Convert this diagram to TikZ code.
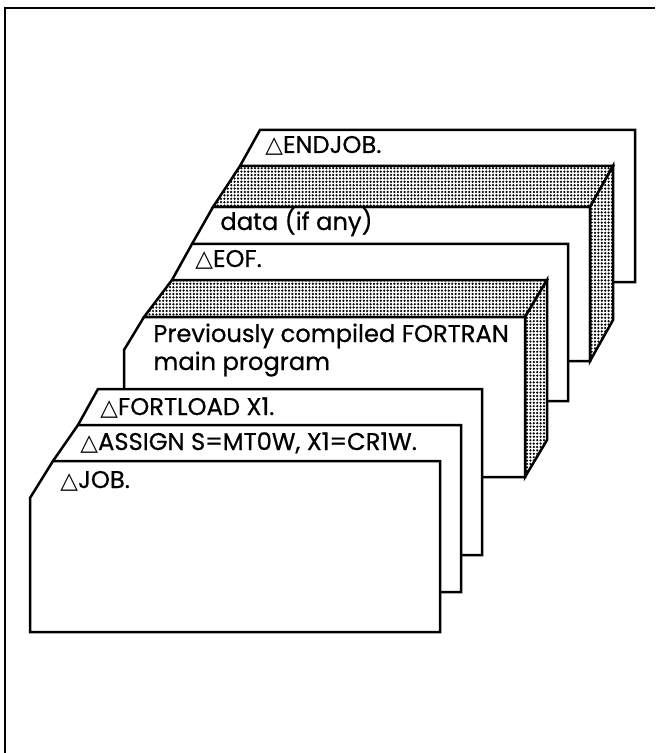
\documentclass[tikz,border=0pt]{standalone}
\usepackage{fontspec}
\setmainfont{Poppins}[FakeBold=0.6]
\newfontfamily\symfont{DejaVu Sans}
\usetikzlibrary{patterns.meta}
\newcommand{\tri}{{\symfont\fontsize{11.5}{14}\selectfont\char"25B3}}
\tikzstyle{card}=[draw, fill=white, line width=1.25pt, line join=miter]
\tikzstyle{dotface}=[card, postaction={pattern={Dots[distance=1.7pt, radius=0.62pt]}}]
\tikzstyle{cardtext}=[anchor=base west, inner sep=0pt, font=\fontsize{12.1}{14}\selectfont]

\begin{document}
\begin{tikzpicture}[x=0.5pt, y=-0.5pt]
        \useasboundingbox (0,0) rectangle (655,753);
        \draw[line width=1.4pt] (655,8) -- (5,8) -- (5,753);
        % back card
        \draw[card] (260,130) -- (635,130) -- (635,282) -- (240,282) -- (240,166) -- cycle;
        % data deck, with its top and side
        \draw[card] (213,207) -- (590,207) -- (590,361) -- (192,361) -- (192,244) -- cycle;
        \draw[dotface] (240,166) -- (613,166) -- (590,207) -- (213,207) -- cycle;
        \draw[dotface] (613,166) -- (613,320) -- (590,361) -- (590,207) -- cycle;
        \draw[card] (192,244) -- (568,244) -- (568,401) -- (172,401) -- (172,280) -- cycle;
        % program deck
        \draw[dotface] (172,280) -- (547,280) -- (525,317) -- (144,317) -- cycle;
        \draw[dotface] (547,280) -- (547,440) -- (525,477) -- (525,317) -- cycle;
        \draw[card] (144,317) -- (525,317) -- (525,477) -- (124,477) -- (124,350) -- cycle;
        % control cards in front
        \draw[card] (98,389) -- (482,389) -- (482,555) -- (78,555) -- (78,425) -- cycle;
        \draw[card] (78,425) -- (461,425) -- (461,592) -- (53,592) -- (53,461) -- cycle;
        \draw[card] (53,461) -- (440,461) -- (440,632) -- (30,632) -- (30,498) -- cycle;
        \node[cardtext] (endjob) at (265,153) {\tri ENDJOB.};
        \node[cardtext] (data) at (220,230) {data (if any)};
        \node[cardtext] (eof) at (195,267) {\tri EOF.};
        \node[cardtext] (prog) at (153,342) {Previously compiled FORTRAN};
        \node[cardtext] (main) at (153,370) {main program};
        \node[cardtext] (fortload) at (100,415) {\tri FORTLOAD X1.};
        \node[cardtext] (assign) at (80,450) {\tri ASSIGN S=MT0W, X1=CR1W.};
        \node[cardtext] (job) at (60,488) {\tri JOB.};
    \end{tikzpicture}
\end{document}
